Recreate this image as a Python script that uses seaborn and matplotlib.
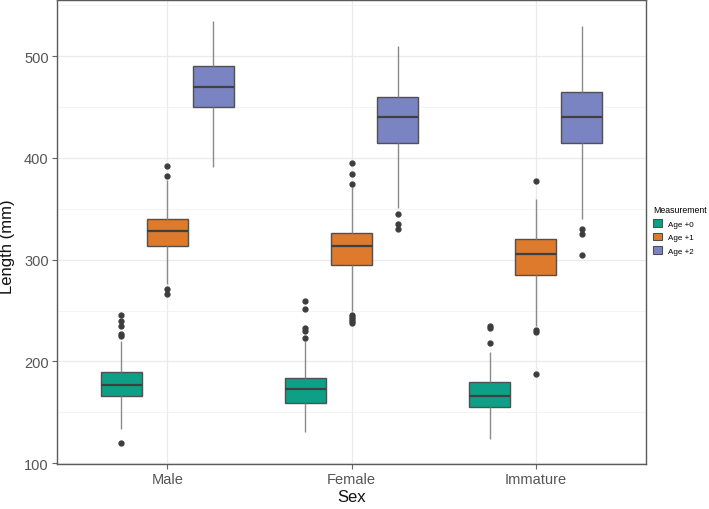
import numpy as np
import pandas as pd
import seaborn as sns
import matplotlib
matplotlib.use('Agg')
import matplotlib.pyplot as plt
from matplotlib.ticker import MultipleLocator

# Categorias e séries
sexes = ["Male", "Female", "Immature"]
ages = ["Age +0", "Age +1", "Age +2"]
colors = ["#0E9F87", "#DD7A2C", "#7A84C2"]

# Estatísticas, na ordem (Male, Female, Immature) x (Age +0, +1, +2)
whisker_lo = [134, 276, 391, 130.5, 249.5, 350.5, 124, 235, 340.5]
box_q1 = [166, 313.5, 450, 159.5, 295, 415, 155, 285, 415]
box_med = [177, 328, 470, 173, 313.5, 440, 166, 306, 440]
box_q3 = [189.5, 340, 490, 184, 326, 460, 180, 320, 465]
whisker_hi = [220, 378, 534.5, 220.5, 371.5, 510, 209.5, 359.5, 529.5]
outliers = [
    [120, 225.5, 227, 235, 240, 245.5],
    [266, 271, 382, 392],
    [],
    [223, 230, 233, 252, 259],
    [238, 240, 242, 244, 246, 374.5, 384, 395],
    [330, 335, 345],
    [218.5, 232.5, 235],
    [188, 229, 231, 377],
    [305, 325, 330],
]

# Monta amostras que reproduzem exatamente quartis e bigodes
rows = []
k = 30
i = 0
for s in sexes:
    for a in ages:
        vals = ([whisker_lo[i]] + [box_q1[i]] * k + [box_med[i]] * k
                + [box_q3[i]] * k + [whisker_hi[i]] + outliers[i])
        for v in vals:
            rows.append({"Sex": s, "Measurement": a, "Length": v})
        i += 1
df = pd.DataFrame(rows)

plt.rcParams['font.family'] = ['Liberation Sans', 'DejaVu Sans']

fig = plt.figure(figsize=(7.09, 5.10), dpi=100)
ax = fig.add_axes([57 / 709, 1 - 465 / 510, (646 - 57) / 709, 464 / 510])

sns.boxplot(data=df, x="Sex", y="Length", hue="Measurement",
            order=sexes, hue_order=ages, palette=colors, saturation=1,
            width=0.75, gap=0.1, linecolor="#505050", linewidth=1.0,
            whiskerprops=dict(color="#8a8a8a", linewidth=1.0),
            medianprops=dict(color="#404040", linewidth=1.6),
            flierprops=dict(marker="o", markerfacecolor="#3d3d3d",
                            markeredgecolor="#3d3d3d", markersize=3.5),
            showcaps=False, ax=ax)

# Limites no estilo ggplot (expansão de 5% / 0.6)
ymin = df["Length"].min()
ymax = df["Length"].max()
pad = 0.05 * (ymax - ymin)
ax.set_ylim(ymin - pad, ymax + pad)
ax.set_xlim(-0.6, 2.6)

ax.yaxis.set_major_locator(MultipleLocator(100))
ax.yaxis.set_minor_locator(MultipleLocator(50))
ax.set_axisbelow(True)
ax.grid(which="major", color="#ebebeb", linewidth=0.9)
ax.grid(which="minor", axis="y", color="#f2f2f2", linewidth=0.6)
ax.tick_params(which="minor", length=0)
ax.tick_params(which="major", length=3.5, color="#666666", width=0.8,
               labelcolor="#555555", labelsize=10.5, pad=2.5)
for sp in ax.spines.values():
    sp.set_color("#5a5a5a")
    sp.set_linewidth(1.0)

ax.set_xlabel("Sex", fontsize=12, color="#111111", labelpad=2)
ax.set_ylabel("Length (mm)", fontsize=12, color="#111111")
ax.yaxis.set_label_coords(-0.072, 0.47)

handles, labels = ax.get_legend_handles_labels()
ax.get_legend().remove()
for h in handles:
    h.set_edgecolor("#505050")
    h.set_linewidth(0.8)
fig.legend(handles, labels, title="Measurement", loc="upper left",
           bbox_to_anchor=(647 / 709, 1 - 200 / 510), frameon=False,
           fontsize=5.8, title_fontsize=6.3, handlelength=1.1, handleheight=1.1,
           labelspacing=0.6, handletextpad=0.7, alignment="left",
           borderpad=0.3)

plt.savefig("out.png", dpi=100)
plt.close()
